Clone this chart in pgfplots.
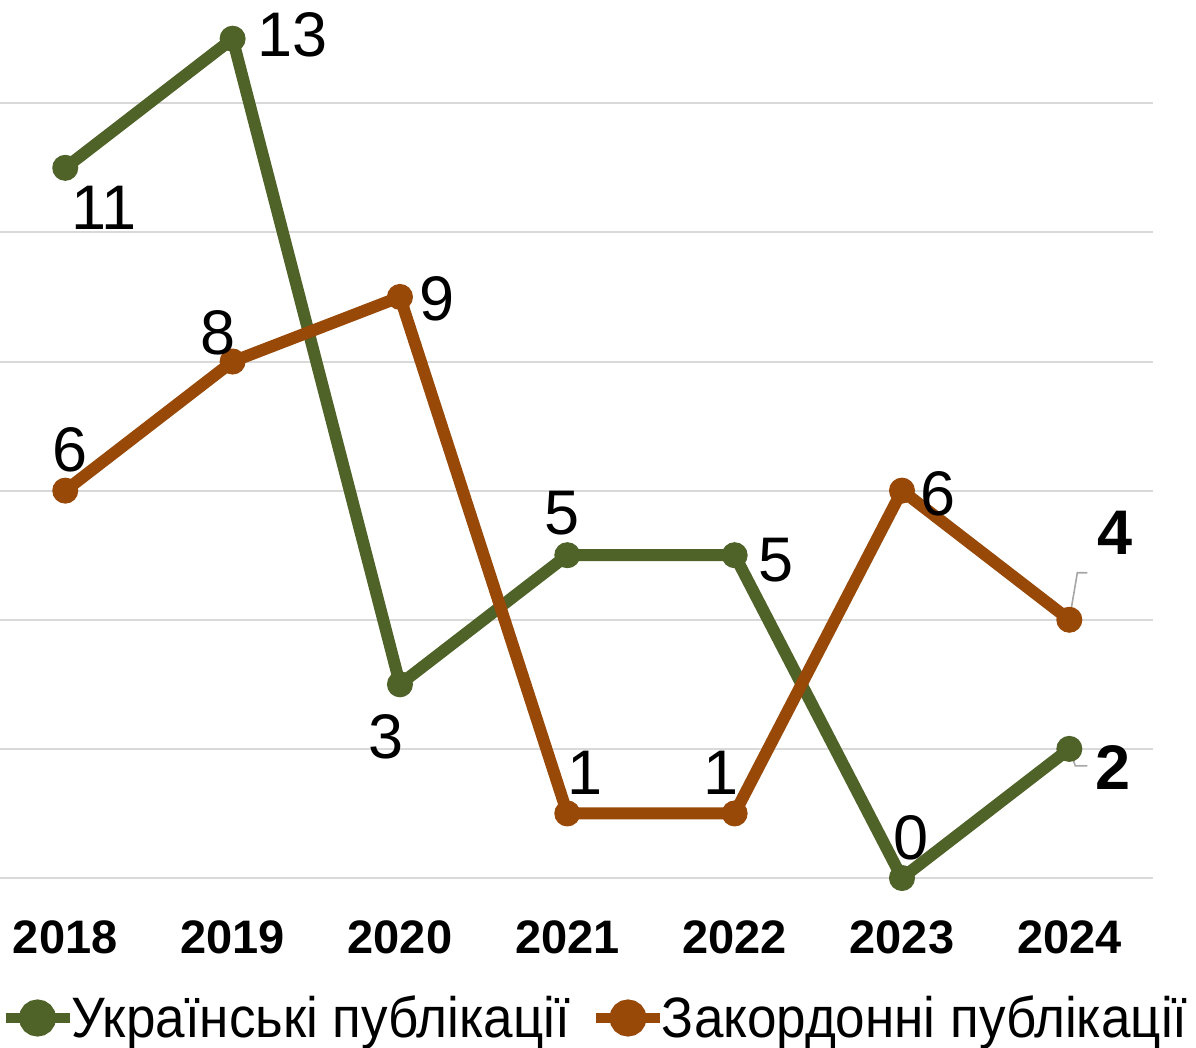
\documentclass[border=0pt]{standalone}
\usepackage{fontspec}
\setmainfont{Liberation Sans}
\newfontfamily\legfont[FakeStretch=0.93]{Liberation Sans}
\usepackage{pgfplots}
\usepackage{pgfplotstable}
\pgfplotsset{compat=1.18}

\definecolor{ukrgreen}{HTML}{4F6228}
\definecolor{foreign}{HTML}{984807}
\definecolor{gridgray}{HTML}{D9D9D9}

% x y label-shift(dx,dy in pt) bold-flag
\pgfplotstableread{
x y dx dy bf
0 11 19.5 -20 0
1 13 30 2 0
2 3 -7 -26 0
3 5 -2.5 21 0
4 5 20.5 -2.5 0
5 0 4.5 20 0
6 2 22 -9.5 1
}\ukr

\pgfplotstableread{
x y dx dy bf
0 6 2.5 20.5 0
1 8 -7.5 14.5 0
2 9 18.5 -1 0
3 1 9 20.5 0
4 1 -7 20.5 0
5 6 18 -1.5 0
6 4 23 43.5 1
}\zak

\pgfplotsset{
    lbl/.style={
        visualization depends on={\thisrow{dx}\as\lblx},
        visualization depends on={\thisrow{dy}\as\lbly},
        visualization depends on={\thisrow{bf}\as\lblbf},
        nodes near coords={\ifdim\lblbf pt>0.5pt\bfseries\fi\pgfmathprintnumber{\pgfplotspointmeta}},
        every node near coord/.append style={anchor=center, inner sep=0pt,
            xshift=\lblx pt, yshift=\lbly pt, text=black,
            font=\fontsize{31.5}{36}\selectfont},
    },
}

\begin{document}
\begin{tikzpicture}
\begin{axis}[
    name=ax,
    scale only axis,
    width=576.5pt, height=439pt,
    xmin=-0.39, xmax=6.5,
    ymin=0, ymax=13.6,
    clip=false,
    axis line style={draw=none},
    major tick length=0pt,
    ytick={0,2,...,12}, yticklabels={},
    ymajorgrids=true,
    grid style={line width=1pt, gridgray},
    xtick={0,...,6},
    xticklabels={2018,2019,2020,2021,2022,2023,2024},
    xticklabel style={anchor=center, yshift=-29.5pt, font=\bfseries\fontsize{23.5}{27}\selectfont},
    /pgf/number format/assume math mode=true,
    every axis plot/.append style={line width=6pt, mark=*, mark size=6.25pt,
        mark options={line width=0.5pt}},
    legend columns=2,
    legend style={at={(axis description cs:0.517,0)}, anchor=center, yshift=-70pt,
        draw=none, inner sep=0pt,
        font=\legfont\fontsize{28.5}{32}\selectfont,
        /tikz/every odd column/.append style={column sep=-3.5pt},
        /tikz/every even column/.append style={column sep=8.5pt}},
    legend image code/.code={
        \draw[#1, mark=none, line width=5pt] (0pt,0pt) -- (32pt,0pt);
        \fill[#1] (16pt,0pt) circle (6.25pt);
    },
]
\addplot[color=ukrgreen, lbl] table[x=x, y=y] {\ukr};
\addlegendentry{Українські публікації}
\addplot[color=foreign, lbl] table[x=x, y=y] {\zak};
\addlegendentry{Закордонні публікації}

% leader lines to the bold 2024 labels
\draw[gray!70, line width=0.8pt] (axis cs:6,4) -- ++(4pt,23.5pt) -- ++(5pt,0pt);
\draw[gray!70, line width=0.8pt] (axis cs:6,2) ++(1pt,-3pt) -- ++(2pt,-5.5pt) -- ++(6pt,0pt);
\end{axis}
\pgfresetboundingbox
\path[use as bounding box] ([yshift=-84.5pt]ax.south west) rectangle ([xshift=21.5pt]ax.north east);
\end{tikzpicture}
\end{document}
